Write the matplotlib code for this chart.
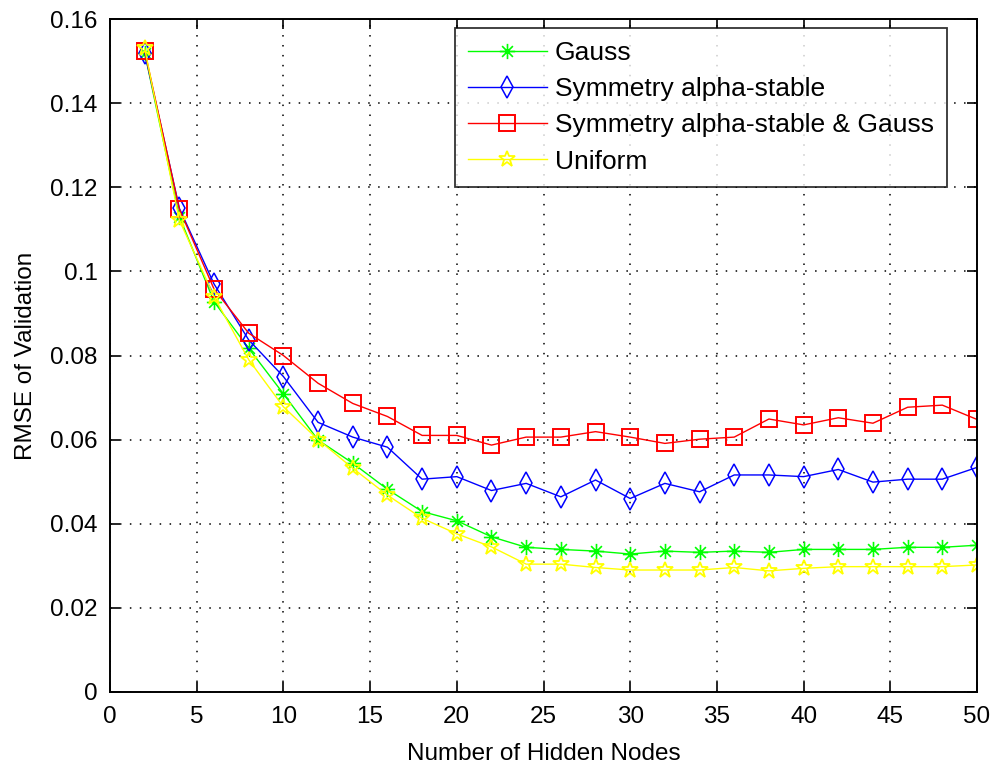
import matplotlib
matplotlib.use("Agg")
import matplotlib.pyplot as plt
from matplotlib.path import Path

nodes = [2, 4, 6, 8, 10, 12, 14, 16, 18, 20, 22, 24, 26, 28, 30, 32, 34, 36, 38, 40, 42, 44, 46, 48, 50]

gauss = [0.152, 0.113, 0.0928, 0.0817, 0.0709, 0.0599, 0.0544, 0.0482, 0.0429, 0.0407, 0.0369, 0.0344,
         0.0339, 0.0335, 0.0328, 0.0335, 0.0332, 0.0335, 0.0332, 0.0339, 0.0339, 0.0339, 0.0344, 0.0344, 0.0349]
alpha_stable = [0.152, 0.115, 0.097, 0.0837, 0.075, 0.0641, 0.0606, 0.0582, 0.0506, 0.0512, 0.0479, 0.0496,
                0.0464, 0.0504, 0.0460, 0.0496, 0.0476, 0.0516, 0.0516, 0.0512, 0.0529, 0.0499, 0.0506, 0.0506, 0.0534]
alpha_gauss = [0.1525, 0.1148, 0.0958, 0.0853, 0.0800, 0.0734, 0.0686, 0.0655, 0.0610, 0.0610, 0.0587, 0.0606,
               0.0606, 0.0619, 0.0606, 0.0591, 0.0601, 0.0606, 0.0649, 0.0635, 0.0652, 0.0639, 0.0677, 0.0682, 0.0648]
uniform = [0.153, 0.1122, 0.094, 0.079, 0.0678, 0.060, 0.0532, 0.0468, 0.0413, 0.0376, 0.0345, 0.0304,
           0.0304, 0.0296, 0.0290, 0.0290, 0.0290, 0.0296, 0.0288, 0.0294, 0.0298, 0.0298, 0.0298, 0.0298, 0.0302]

labels = ["Gauss", "Symmetry alpha-stable", "Symmetry alpha-stable & Gauss", "Uniform"]
xticks = [0, 5, 10, 15, 20, 25, 30, 35, 40, 45, 50]
yticks = [0, 0.02, 0.04, 0.06, 0.08, 0.1, 0.12, 0.14, 0.16]
yticklabels = ["0", "0.02", "0.04", "0.06", "0.08", "0.1", "0.12", "0.14", "0.16"]

plt.rcParams['font.family'] = ['Liberation Sans', 'DejaVu Sans']
fig = plt.figure(figsize=(9.93, 7.64), dpi=100)
ax = fig.add_axes([110 / 993, 72 / 764, 867 / 993, 673 / 764])

# MATLAB-style asterisk marker (8 spokes)
d = 0.7071
asterisk = Path([(-1, 0), (1, 0), (0, -1), (0, 1), (-d, -d), (d, d), (-d, d), (d, -d)],
                [Path.MOVETO, Path.LINETO] * 4)

lw = 1.0
ax.plot(nodes, gauss, color=(0, 1, 0), marker=asterisk, ms=11, mfc='none', mec=(0, 1, 0), mew=1.2, lw=lw, label=labels[0])
ax.plot(nodes, alpha_stable, color=(0, 0, 1), marker='d', ms=11, mfc='none', mec=(0, 0, 1), mew=1.1, lw=lw, label=labels[1])
ax.plot(nodes, alpha_gauss, color=(1, 0, 0), marker='s', ms=11, mfc='none', mec=(1, 0, 0), mew=1.4, lw=lw, label=labels[2])
ax.plot(nodes, uniform, color=(1, 1, 0), marker='*', ms=12, mfc='none', mec=(1, 1, 0), mew=1.3, lw=lw, label=labels[3])

ax.set_xlim(0, 50)
ax.set_ylim(0, 0.16)
ax.set_xticks(xticks)
ax.set_xticklabels([str(t) for t in xticks])
ax.set_yticks(yticks)
ax.set_yticklabels(yticklabels)
ax.tick_params(direction='in', top=True, right=True, length=7, labelsize=17.5, width=1.2)
ax.tick_params(axis='x', pad=10)
ax.tick_params(axis='y', pad=9)
ax.grid(True, linestyle=(0, (1, 5.5)), color='black', lw=1.1)
for s in ax.spines.values():
    s.set_linewidth(1.4)
ax.set_xlabel("Number of Hidden Nodes", fontsize=17.5, labelpad=11)
ax.set_ylabel("RMSE of Validation", fontsize=17.5, labelpad=9)

leg = ax.legend(loc='upper right', bbox_to_anchor=(0.9654, 0.9866), fontsize=19, frameon=True, fancybox=False,
                edgecolor='black', borderaxespad=0.0, borderpad=0.5, handlelength=3.0, handletextpad=0.3,
                labelspacing=0.46)
leg.get_frame().set_linewidth(1.3)

fig.savefig("out.png", dpi=100)
